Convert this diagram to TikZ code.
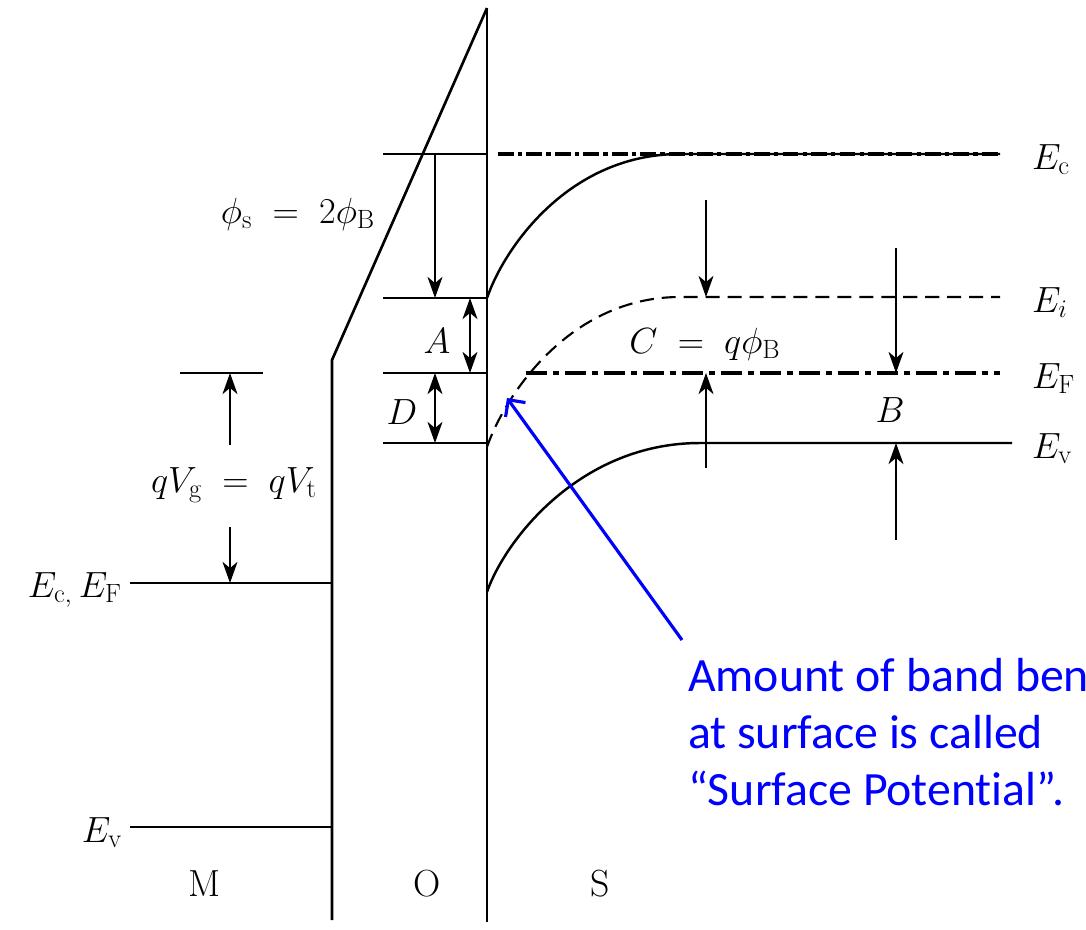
\documentclass[tikz,border=0pt]{standalone}
\usepackage{fontspec}
\newfontfamily\notefont[Ligatures=NoCommon]{Carlito}
\usetikzlibrary{arrows.meta,positioning,calc}

\begin{document}
\begin{tikzpicture}[
  x=0.02cm, y=-0.02cm,
  every node/.style={inner sep=0pt, outer sep=0pt},
  %% ─── styles ─────────────────────────────────────────────
  wall/.style={line width=1.5pt},
  level/.style={line width=1.4pt},
  condband/.style={line width=2.6pt, dash pattern=on 9pt off 2.4pt on 2.4pt off 2.4pt},
  fermi/.style={line width=2.1pt, dash pattern=on 12pt off 3.4pt on 3.4pt off 3.4pt},
  intrinsic/.style={line width=1.2pt, dash pattern=on 8pt off 4.5pt},
  arrow/.style={-{Stealth[length=12pt,width=8.5pt,inset=3.5pt]}, line width=1.2pt},
  darrow/.style={{Stealth[length=12pt,width=8.5pt,inset=3.5pt]}-{Stealth[length=12pt,width=8.5pt,inset=3.5pt]}, line width=1.2pt},
  lbl/.style={font=\fontsize{21.5}{26}\selectfont, anchor=base},
  note/.style={font=\notefont\fontsize{27.2}{32.3}\selectfont, text=blue, align=left, anchor=base west},
  pointer/.style={draw=blue, line width=1.8pt, -{Straight Barb[length=7pt,width=14pt]}}
]
  \useasboundingbox (0,0) rectangle (1086,930);
  \clip (0,0) rectangle (1086,930);

  %% ─── 1. interfaces (M | O | S) ───────────────────────────
  \coordinate (otop) at (487,8);
  \coordinate (obot) at (487,922);
  \coordinate (mknee) at (332,360);
  \coordinate (mbot) at (332,920);
  \draw[wall] (otop) -- (obot);
  \draw[wall] (otop) -- (mknee) -- (mbot);

  %% ─── 2. metal levels ─────────────────────────────────────
  \coordinate (mEF) at (130,583);
  \coordinate (mEv) at (130,827);
  \draw[level] (mEF) -- (mEF -| mknee);
  \draw[level] (mEv) -- (mEv -| mknee);
  \node[lbl, anchor=base east] (lEcEF) at (122,597) {$E_{\mathrm{c},}\,E_{\mathrm{F}}$};
  \node[lbl, anchor=base east] (lEvm) at (122,842) {$E_{\mathrm{v}}$};

  % qV_g = qV_t
  \coordinate (gtop) at (180,373);
  \draw[level] (gtop) -- (263,373);
  \draw[arrow] (230,445) -- (230,373);
  \draw[arrow] (230,527) -- (230,583);
  \node[lbl] (lVg) at (234,492) {$qV_{\mathrm{g}}\;=\;qV_{\mathrm{t}}$};

  %% ─── 3. surface reference levels ─────────────────────────
  \foreach \y/\n in {154/sEc, 298/sEcs, 373/sEF, 443/sEvs} {
    \coordinate (\n) at (383,\y);
    \draw[level] (\n) -- (487,\y);
  }
  \draw[arrow] (435,154) -- (435,298);
  \draw[darrow] (470,298) -- (470,373);
  \draw[darrow] (435,373) -- (435,443);
  \node[lbl] (lphi) at (298,223) {$\phi_{\mathrm{s}}\;=\;2\phi_{\mathrm{B}}$};
  \node[lbl] (lA) at (437,353) {$A$};
  \node[lbl] (lD) at (402,424) {$D$};

  %% ─── 4. semiconductor bands ──────────────────────────────
  \coordinate (Ec0) at (487,298);
  \coordinate (Ei0) at (487,447);
  \coordinate (Ev0) at (487,592);
  \draw[level] (Ec0) .. controls (505,246) and (570,154) .. (680,154) -- (1000,154);
  \draw[condband] (498,154) -- (1000,154);
  \draw[intrinsic] (Ei0) .. controls (505,395) and (570,297) .. (680,297) -- (1000,297);
  \draw[fermi] (526,373) -- (1000,373);
  \draw[level] (Ev0) .. controls (505,540) and (580,443) .. (700,443) -- (1012,443);

  \node[lbl, anchor=base west] (lEc) at (1032,169) {$E_{\mathrm{c}}$};
  \node[lbl, anchor=base west] (lEi) at (1032,312) {$E_{i}$};
  \node[lbl, anchor=base west] (lEF) at (1032,388) {$E_{\mathrm{F}}$};
  \node[lbl, anchor=base west] (lEv) at (1032,458) {$E_{\mathrm{v}}$};

  % C and B spacings
  \draw[arrow] (706,200) -- (706,297);
  \draw[arrow] (706,468) -- (706,373);
  \draw[arrow] (896,248) -- (896,373);
  \draw[arrow] (896,540) -- (896,443);
  \node[lbl] (lC) at (705,353) {$C\;=\;q\phi_{\mathrm{B}}$};
  \node[lbl] (lB) at (890,422) {$B$};

  %% ─── 5. region names ─────────────────────────────────────
  \node[lbl] (lM) at (205,896) {M};
  \node[lbl] (lO) at (427,896) {O};
  \node[lbl] (lS) at (600,896) {S};

  %% ─── 6. annotation ───────────────────────────────────────
  \node[note] (note) at (688,805) {Amount of band bending\\at surface is called\\“Surface Potential”.};
  \coordinate (tail) at (682,640);
  \coordinate (surf) at (507,398);
  \draw[pointer] (tail) -- (surf);
\end{tikzpicture}
\end{document}
